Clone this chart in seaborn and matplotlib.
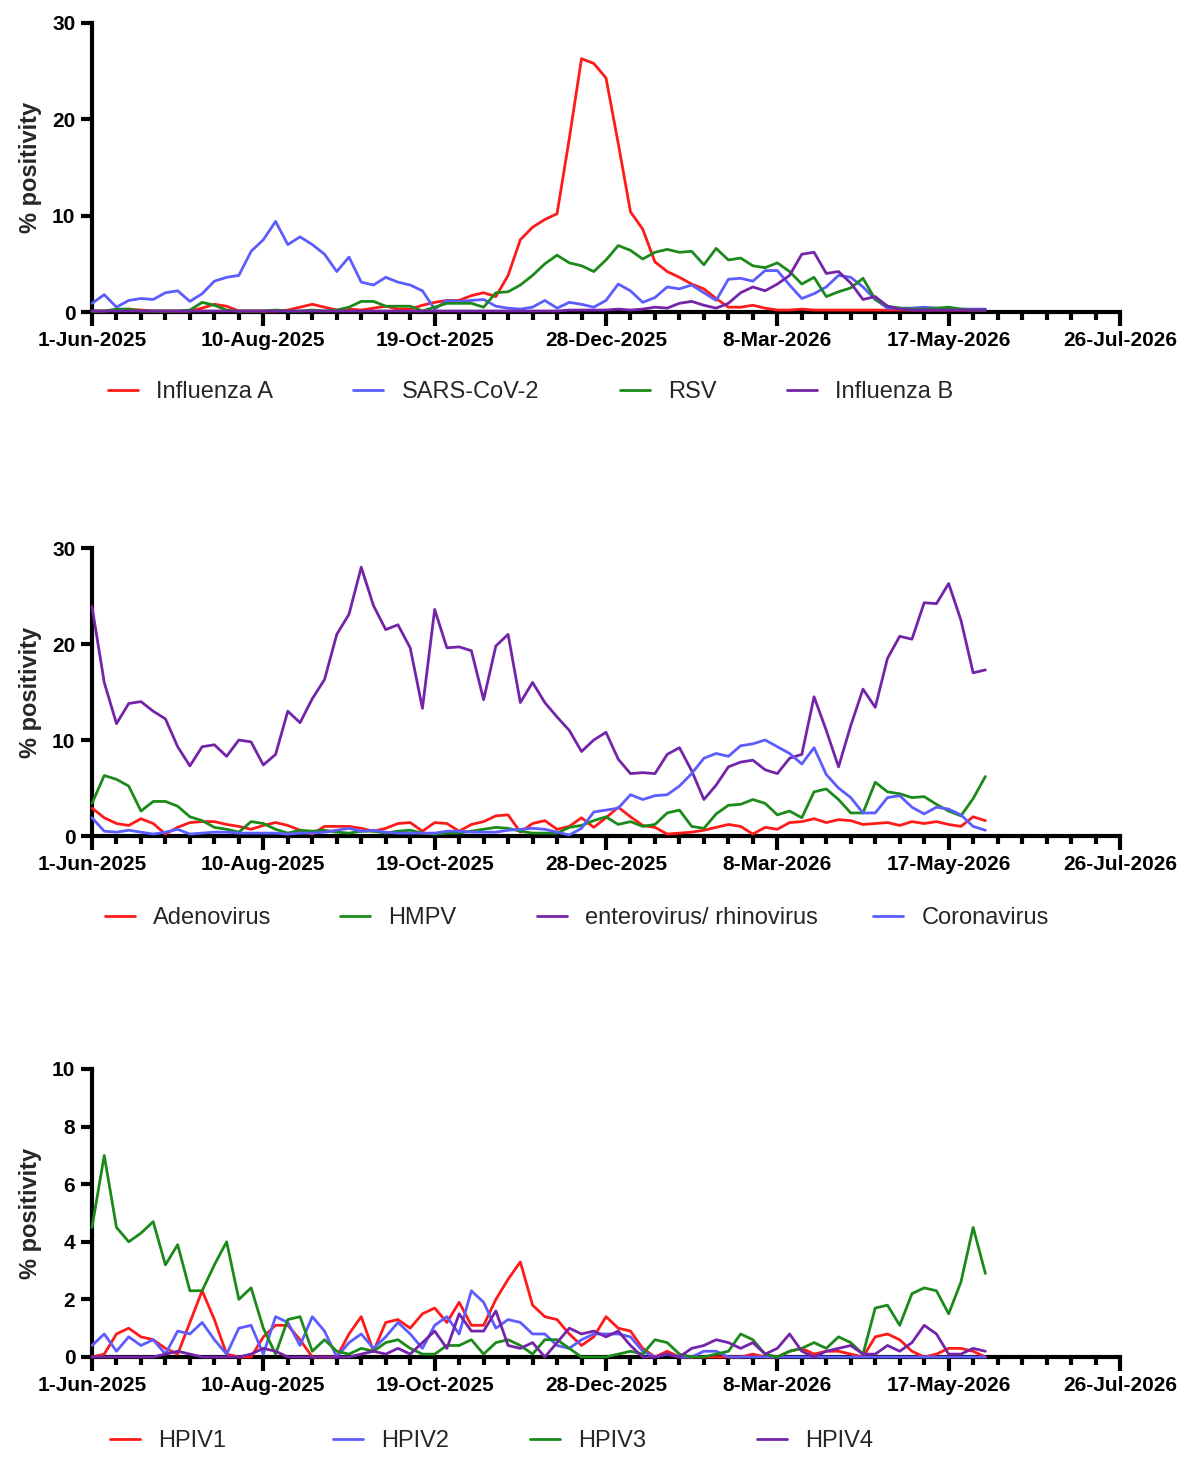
"""
Daily % positivity of respiratory viruses, three stacked panels.
"""

import numpy as np
import pandas as pd
import matplotlib
matplotlib.use("Agg")
import matplotlib.pyplot as plt
import matplotlib.dates as mdates
from matplotlib.ticker import FixedLocator, FuncFormatter
import seaborn as sns

# sample dates: every 5 days from 1-Jun-2025 to 1-Jun-2026
dates = pd.date_range("2025-06-01", periods=74, freq="5D")

# ---- panel 1 ----
flu_a = [0.1, 0.1, 0.2, 0.3, 0.2, 0.1, 0.1, 0.1, 0.1,
         0.4, 0.8, 0.6, 0.1, 0.1, 0.1, 0.1, 0.2, 0.5, 0.8, 0.5,
         0.2, 0.3, 0.2, 0.4, 0.6, 0.3, 0.3, 0.7, 1.0,
         1.2, 1.2, 1.7, 2.0, 1.6, 3.8, 7.5, 8.8, 9.6, 10.2, 18.0,
         26.3, 25.8, 24.3, 17.5, 10.4, 8.6, 5.2, 4.2, 3.6, 2.9, 2.4,
         1.4, 0.5, 0.5, 0.7, 0.4, 0.2, 0.2, 0.3, 0.2, 0.2, 0.2,
         0.2, 0.2, 0.2, 0.2, 0.2, 0.2, 0.2, 0.2, 0.2, 0.2, 0.2, 0.2]
sars_cov2 = [0.9, 1.8, 0.5, 1.2, 1.4, 1.3, 2.0, 2.2, 1.1,
             1.9, 3.2, 3.6, 3.8, 6.3, 7.5, 9.4, 7.0, 7.8, 7.0, 6.0,
             4.2, 5.7, 3.1, 2.8, 3.6, 3.1, 2.8, 2.2, 0.3,
             1.2, 1.1, 1.2, 1.3, 0.6, 0.4, 0.3, 0.5, 1.2, 0.4, 1.0,
             0.8, 0.5, 1.2, 2.9, 2.2, 1.0, 1.5, 2.6, 2.4, 2.8, 2.0,
             1.2, 3.4, 3.5, 3.2, 4.3, 4.3, 2.8, 1.4, 1.9, 2.6, 3.8,
             3.6, 2.6, 1.3, 0.4, 0.4, 0.4, 0.5, 0.4, 0.3, 0.3, 0.3, 0.3]
rsv = [0.1, 0.1, 0.3, 0.3, 0.1, 0.1, 0.1, 0.1, 0.2,
       1.0, 0.7, 0.2, 0.1, 0.1, 0.1, 0.2, 0.1, 0.1, 0.2, 0.1,
       0.2, 0.5, 1.1, 1.1, 0.6, 0.6, 0.6, 0.1, 0.5,
       0.9, 0.9, 0.9, 0.5, 2.0, 2.1, 2.8, 3.8, 5.0, 5.9, 5.1,
       4.8, 4.2, 5.4, 6.9, 6.4, 5.5, 6.2, 6.5, 6.2, 6.3, 4.9,
       6.6, 5.4, 5.6, 4.8, 4.6, 5.1, 4.2, 2.9, 3.6, 1.6, 2.1,
       2.5, 3.5, 1.3, 0.6, 0.4, 0.3, 0.3, 0.4, 0.5, 0.3, 0.2, 0.2]
flu_b = [0.1, 0.1, 0.1, 0.1, 0.1, 0.1, 0.1, 0.1, 0.1,
         0.1, 0.1, 0.1, 0.1, 0.1, 0.1, 0.1, 0.1, 0.1, 0.1, 0.1,
         0.1, 0.1, 0.1, 0.1, 0.1, 0.1, 0.1, 0.1, 0.1,
         0.1, 0.1, 0.1, 0.1, 0.1, 0.1, 0.1, 0.1, 0.1, 0.1, 0.2,
         0.2, 0.2, 0.2, 0.3, 0.2, 0.3, 0.5, 0.4, 0.9, 1.1, 0.7,
         0.4, 0.9, 2.0, 2.6, 2.2, 2.9, 3.8, 6.0, 6.2, 4.0, 4.2,
         3.0, 1.3, 1.6, 0.6, 0.3, 0.2, 0.2, 0.2, 0.2, 0.2, 0.2, 0.2]

# ---- panel 2 ----
adeno = [2.9, 1.9, 1.3, 1.1, 1.8, 1.3, 0.2, 0.9, 1.4,
         1.5, 1.5, 1.2, 1.0, 0.7, 1.1, 1.4, 1.1, 0.6, 0.2, 1.0,
         1.0, 1.0, 0.8, 0.5, 0.8, 1.3, 1.4, 0.5, 1.4,
         1.3, 0.5, 1.2, 1.5, 2.1, 2.2, 0.4, 1.3, 1.6, 0.7, 1.0,
         1.9, 0.9, 1.9, 3.0, 2.0, 1.1, 0.9, 0.2, 0.3, 0.4, 0.6,
         0.9, 1.2, 1.0, 0.2, 0.9, 0.7, 1.4, 1.5, 1.8, 1.4, 1.7,
         1.6, 1.2, 1.3, 1.4, 1.1, 1.5, 1.3, 1.5, 1.2, 1.0, 2.0, 1.6]
hmpv = [3.4, 6.3, 5.9, 5.2, 2.6, 3.6, 3.6, 3.1, 2.0,
        1.6, 0.9, 0.7, 0.4, 1.5, 1.3, 0.7, 0.3, 0.6, 0.5, 0.6,
        0.4, 0.3, 0.5, 0.5, 0.3, 0.5, 0.6, 0.3, 0.2,
        0.3, 0.3, 0.5, 0.7, 0.9, 0.8, 0.5, 0.3, 0.3, 0.3, 0.9,
        1.1, 1.6, 2.0, 1.2, 1.5, 1.0, 1.2, 2.4, 2.7, 1.0, 0.8,
        2.3, 3.2, 3.3, 3.8, 3.4, 2.2, 2.6, 1.9, 4.6, 4.9, 3.8,
        2.4, 2.4, 5.6, 4.6, 4.4, 4.0, 4.1, 3.3, 2.6, 2.1, 3.9, 6.2]
entero_rhino = [23.9, 16.0, 11.7, 13.8, 14.0, 13.0, 12.2, 9.3, 7.3,
                9.3, 9.5, 8.3, 10.0, 9.8, 7.4, 8.5, 13.0, 11.8, 14.3, 16.3,
                21.0, 23.1, 28.0, 24.0, 21.5, 22.0, 19.6, 13.3, 23.6,
                19.6, 19.7, 19.3, 14.2, 19.8, 21.0, 13.9, 16.0, 13.9, 12.4, 11.0,
                8.8, 10.0, 10.8, 8.0, 6.5, 6.6, 6.5, 8.5, 9.2, 6.8, 3.8,
                5.3, 7.2, 7.7, 7.9, 6.9, 6.5, 8.1, 8.5, 14.5, 11.0, 7.2,
                11.5, 15.3, 13.4, 18.5, 20.8, 20.5, 24.3, 24.2, 26.3, 22.5, 17.0, 17.3]
corona = [1.9, 0.5, 0.4, 0.6, 0.4, 0.2, 0.4, 0.7, 0.2,
          0.3, 0.4, 0.4, 0.3, 0.3, 0.3, 0.3, 0.2, 0.3, 0.3, 0.4,
          0.6, 0.8, 0.5, 0.6, 0.4, 0.3, 0.3, 0.3, 0.3,
          0.5, 0.5, 0.4, 0.4, 0.4, 0.6, 0.7, 0.8, 0.7, 0.4, 0.1,
          0.8, 2.5, 2.7, 2.9, 4.3, 3.8, 4.2, 4.3, 5.2, 6.5, 8.1,
          8.6, 8.3, 9.4, 9.6, 10.0, 9.3, 8.6, 7.5, 9.2, 6.4, 5.0,
          4.0, 2.4, 2.4, 4.0, 4.2, 3.0, 2.3, 3.0, 2.8, 2.2, 1.0, 0.6]

# ---- panel 3 ----
hpiv1 = [0.0, 0.1, 0.8, 1.0, 0.7, 0.6, 0.3, 0.1, 1.2,
         2.3, 1.3, 0.1, 0.0, 0.0, 0.7, 1.1, 1.1, 0.6, 0.0, 0.0,
         0.0, 0.8, 1.4, 0.2, 1.2, 1.3, 1.0, 1.5, 1.7,
         1.2, 1.9, 1.1, 1.1, 2.0, 2.7, 3.3, 1.8, 1.4, 1.3, 0.8,
         0.4, 0.7, 1.4, 1.0, 0.9, 0.3, 0.0, 0.2, 0.0, 0.0, 0.0,
         0.0, 0.0, 0.0, 0.1, 0.0, 0.0, 0.2, 0.3, 0.1, 0.2, 0.2,
         0.1, 0.0, 0.7, 0.8, 0.6, 0.2, 0.0, 0.1, 0.3, 0.3, 0.2, 0.0]
hpiv2 = [0.4, 0.8, 0.2, 0.7, 0.4, 0.6, 0.1, 0.9, 0.8,
         1.2, 0.6, 0.1, 1.0, 1.1, 0.1, 1.4, 1.2, 0.4, 1.4, 0.9,
         0.0, 0.5, 0.8, 0.3, 0.7, 1.2, 0.8, 0.3, 1.1,
         1.4, 0.8, 2.3, 1.9, 1.0, 1.3, 1.2, 0.8, 0.8, 0.4, 0.3,
         0.6, 0.8, 0.8, 0.8, 0.7, 0.2, 0.0, 0.1, 0.0, 0.0, 0.2,
         0.2, 0.0, 0.0, 0.0, 0.0, 0.0, 0.0, 0.0, 0.0, 0.0, 0.0,
         0.0, 0.0, 0.0, 0.0, 0.0, 0.0, 0.0, 0.0, 0.0, 0.0, 0.0, 0.0]
hpiv3 = [4.5, 7.0, 4.5, 4.0, 4.3, 4.7, 3.2, 3.9, 2.3,
         2.3, 3.2, 4.0, 2.0, 2.4, 1.0, 0.1, 1.3, 1.4, 0.2, 0.6,
         0.2, 0.1, 0.3, 0.2, 0.5, 0.6, 0.3, 0.1, 0.1,
         0.4, 0.4, 0.6, 0.1, 0.5, 0.6, 0.4, 0.1, 0.6, 0.6, 0.3,
         0.0, 0.0, 0.0, 0.1, 0.2, 0.1, 0.6, 0.5, 0.1, 0.0, 0.0,
         0.1, 0.2, 0.8, 0.6, 0.1, 0.0, 0.2, 0.3, 0.5, 0.3, 0.7,
         0.5, 0.1, 1.7, 1.8, 1.1, 2.2, 2.4, 2.3, 1.5, 2.6, 4.5, 2.9]
hpiv4 = [0.0, 0.0, 0.0, 0.0, 0.0, 0.0, 0.1, 0.2, 0.1,
         0.0, 0.0, 0.0, 0.0, 0.1, 0.3, 0.2, 0.0, 0.0, 0.0, 0.0,
         0.0, 0.0, 0.1, 0.2, 0.1, 0.3, 0.1, 0.5, 0.9,
         0.3, 1.5, 0.9, 0.9, 1.6, 0.4, 0.3, 0.5, 0.0, 0.5, 1.0,
         0.8, 0.9, 0.7, 0.9, 0.4, 0.0, 0.0, 0.1, 0.0, 0.3, 0.4,
         0.6, 0.5, 0.3, 0.5, 0.1, 0.3, 0.8, 0.2, 0.0, 0.2, 0.3,
         0.4, 0.1, 0.1, 0.4, 0.2, 0.5, 1.1, 0.8, 0.1, 0.1, 0.3, 0.2]

RED = "#ff1a1a"
BLUE = "#5c5cff"
GREEN = "#1b8a1b"
PURPLE = "#7424a8"

panels = [
    {
        "series": {"Influenza A": flu_a, "SARS-CoV-2": sars_cov2,
                   "RSV": rsv, "Influenza B": flu_b},
        "colors": [RED, BLUE, GREEN, PURPLE],
        "yticks": [0, 10, 20, 30],
        "rect": [92, 23, 312],
        "legend_y": 392,
        "legend_x": [108, 353, 620, 787],
    },
    {
        "series": {"Adenovirus": adeno, "HMPV": hmpv,
                   "enterovirus/ rhinovirus": entero_rhino, "Coronavirus": corona},
        "colors": [RED, GREEN, PURPLE, BLUE],
        "yticks": [0, 10, 20, 30],
        "rect": [92, 548, 836],
        "legend_y": 918,
        "legend_x": [105, 340, 537, 873],
    },
    {
        "series": {"HPIV1": hpiv1, "HPIV2": hpiv2, "HPIV3": hpiv3, "HPIV4": hpiv4},
        "colors": [RED, BLUE, GREEN, PURPLE],
        "yticks": [0, 2, 4, 6, 8, 10],
        "rect": [92, 1069, 1357],
        "legend_y": 1441,
        "legend_x": [110, 333, 530, 757],
    },
]

W, H = 1200, 1472
X_START = pd.Timestamp("2025-06-01")
X_END = pd.Timestamp("2026-07-26")

sns.set_theme(style="ticks")
plt.rcParams["font.family"] = ["Liberation Sans", "DejaVu Sans"]


def date_label(value, pos):
    d = mdates.num2date(value)
    return f"{d.day}-{d:%b-%Y}"


def draw_panel(fig, panel):
    left, top, bottom = panel["rect"]
    ax = fig.add_axes([left / W, 1 - bottom / H, (1120 - left) / W, (bottom - top) / H])

    names = list(panel["series"].keys())
    wide = pd.DataFrame({"date": dates, **panel["series"]})
    long_df = wide.melt(id_vars="date", var_name="virus", value_name="pct")

    sns.lineplot(
        data=long_df, x="date", y="pct", hue="virus",
        hue_order=names, palette=panel["colors"],
        linewidth=2.0, errorbar=None, ax=ax
    )
    handles, labels = ax.get_legend_handles_labels()
    ax.get_legend().remove()
    for line in ax.lines:
        line.set_clip_on(False)
        line.set_zorder(3)

    ax.set_xlim(X_START, X_END)
    ax.set_ylim(0, panel["yticks"][-1])
    ax.set_yticks(panel["yticks"])

    major = pd.date_range(X_START, X_END, freq="70D")
    minor = pd.date_range(X_START, X_END, freq="10D")
    ax.xaxis.set_major_locator(FixedLocator(mdates.date2num(major)))
    ax.xaxis.set_minor_locator(FixedLocator(mdates.date2num(minor)))
    ax.xaxis.set_major_formatter(FuncFormatter(date_label))

    sns.despine(ax=ax)
    for side in ["left", "bottom"]:
        ax.spines[side].set_linewidth(3)
        ax.spines[side].set_color("black")

    ax.tick_params(axis="x", which="major", length=10, width=3, pad=4,
                   labelsize=15, colors="black")
    ax.tick_params(axis="x", which="minor", length=6, width=3, colors="black")
    ax.tick_params(axis="y", which="major", length=8, width=3, pad=4,
                   labelsize=15, colors="black")
    for tick in ax.xaxis.get_major_ticks() + ax.yaxis.get_major_ticks():
        tick.label1.set_fontweight("bold")

    ax.set_xlabel("")
    ax.set_ylabel("% positivity", fontsize=17, fontweight="bold", labelpad=7)
    ax.grid(False)

    for handle, label, x in zip(handles, labels, panel["legend_x"]):
        fig.legend(
            [handle], [label], loc="center left",
            bbox_to_anchor=(x / W, 1 - panel["legend_y"] / H),
            frameon=False, borderpad=0, borderaxespad=0,
            handlelength=1.27, handletextpad=0.78, fontsize=17
        )
    return ax


fig = plt.figure(figsize=(W / 100, H / 100), dpi=100)
for panel in panels:
    draw_panel(fig, panel)

fig.savefig("out.png", dpi=100, facecolor="white")
